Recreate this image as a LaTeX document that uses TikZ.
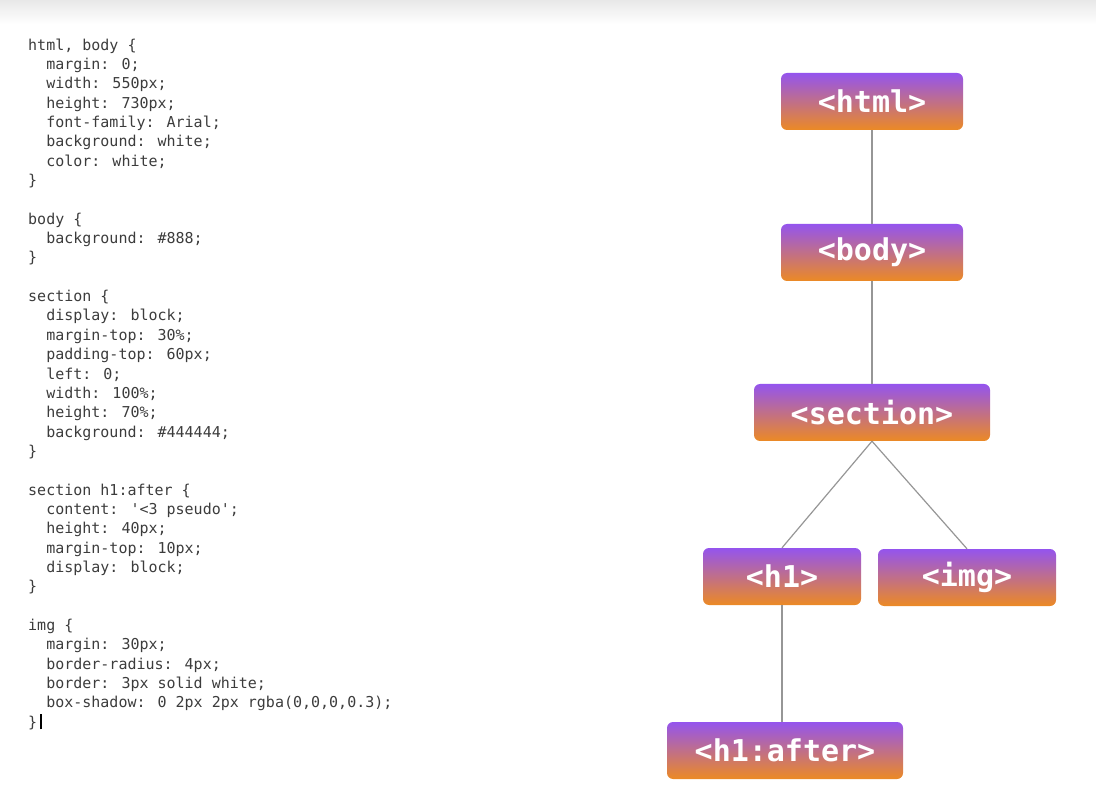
\documentclass[tikz,border=0pt]{standalone}
\usepackage{fontspec}
\usepackage{xcolor}
\usepackage{tikz}
\usetikzlibrary{positioning}
\newfontfamily\codefont{DejaVu Sans Mono}
\definecolor{codeGray}{RGB}{60,60,60}
\definecolor{tagTop}{RGB}{148,84,238}
\definecolor{tagBottom}{RGB}{236,138,36}
\definecolor{lineGray}{RGB}{150,150,150}
\newcommand\ind{\phantom{xx}}

\begin{document}
\begin{tikzpicture}
  [
    x=1pt, y=-1pt,
    Code/.style={anchor=base west, inner sep=0pt, align=left, text=codeGray,
      font=\codefont\fontsize{15}{19.35}\selectfont},
    Tag/.style={rounded corners=6pt, top color=tagTop, bottom color=tagBottom,
      text=white, minimum height=57pt, inner sep=0pt,
      font=\codefont\bfseries\fontsize{30}{30}\selectfont},
    Link/.style={draw=lineGray, line width=1.2pt}
  ]
  \useasboundingbox (0,0) rectangle (1096,802);
  \shade[top color=black!9, bottom color=white] (0,0) rectangle (1096,24);

  % Code (placed by the baseline of the last line)
  \node[Code] (cssHtml) at (28, 185.5) {html, body \{\\
    \ind margin: 0;\\
    \ind width: 550px;\\
    \ind height: 730px;\\
    \ind font-family: Arial;\\
    \ind background: white;\\
    \ind color: white;\\
    \}};

  \node[Code] (cssBody) at (28, 262.9) {body \{\\
    \ind background: \#888;\\
    \}};

  \node[Code] (cssSection) at (28, 456.4) {section \{\\
    \ind display: block;\\
    \ind margin-top: 30\%;\\
    \ind padding-top: 60px;\\
    \ind left: 0;\\
    \ind width: 100\%;\\
    \ind height: 70\%;\\
    \ind background: \#444444;\\
    \}};

  \node[Code] (cssAfter) at (28, 591.8) {section h1:after \{\\
    \ind content: '<3 pseudo';\\
    \ind height: 40px;\\
    \ind margin-top: 10px;\\
    \ind display: block;\\
    \}};

  \node[Code] (cssImg) at (28, 727.3) {img \{\\
    \ind margin: 30px;\\
    \ind border-radius: 4px;\\
    \ind border: 3px solid white;\\
    \ind box-shadow: 0 2px 2px rgba(0,0,0,0.3);\\
    \}\,\textcolor{black}{\rule[-2pt]{2.5pt}{15pt}}};

  % Nodes
  \node[Tag, minimum width=182pt] (html) at (872, 101.5) {<html>};

  \node[Tag, minimum width=182pt] (body) at (872, 252.5) {<body>};

  \node[Tag, minimum width=236pt] (section) at (872, 412.5) {<section>};

  \node[Tag, minimum width=158pt] (h1) at (782, 576.5) {<h1>};

  \node[Tag, minimum width=178pt] (img) at (967, 577.5) {<img>};

  \node[Tag, minimum width=236pt] (h1after) at (785, 750.5) {<h1:after>};

  % Lines
  \path [Link] (html) -- (body);
  \path [Link] (body) -- (section);
  \path [Link] (section.south) -- (h1.north);
  \path [Link] (section.south) -- (img.north);
  \path [Link] (h1.south) -- (h1.south |- h1after.north);

\end{tikzpicture}
\end{document}
